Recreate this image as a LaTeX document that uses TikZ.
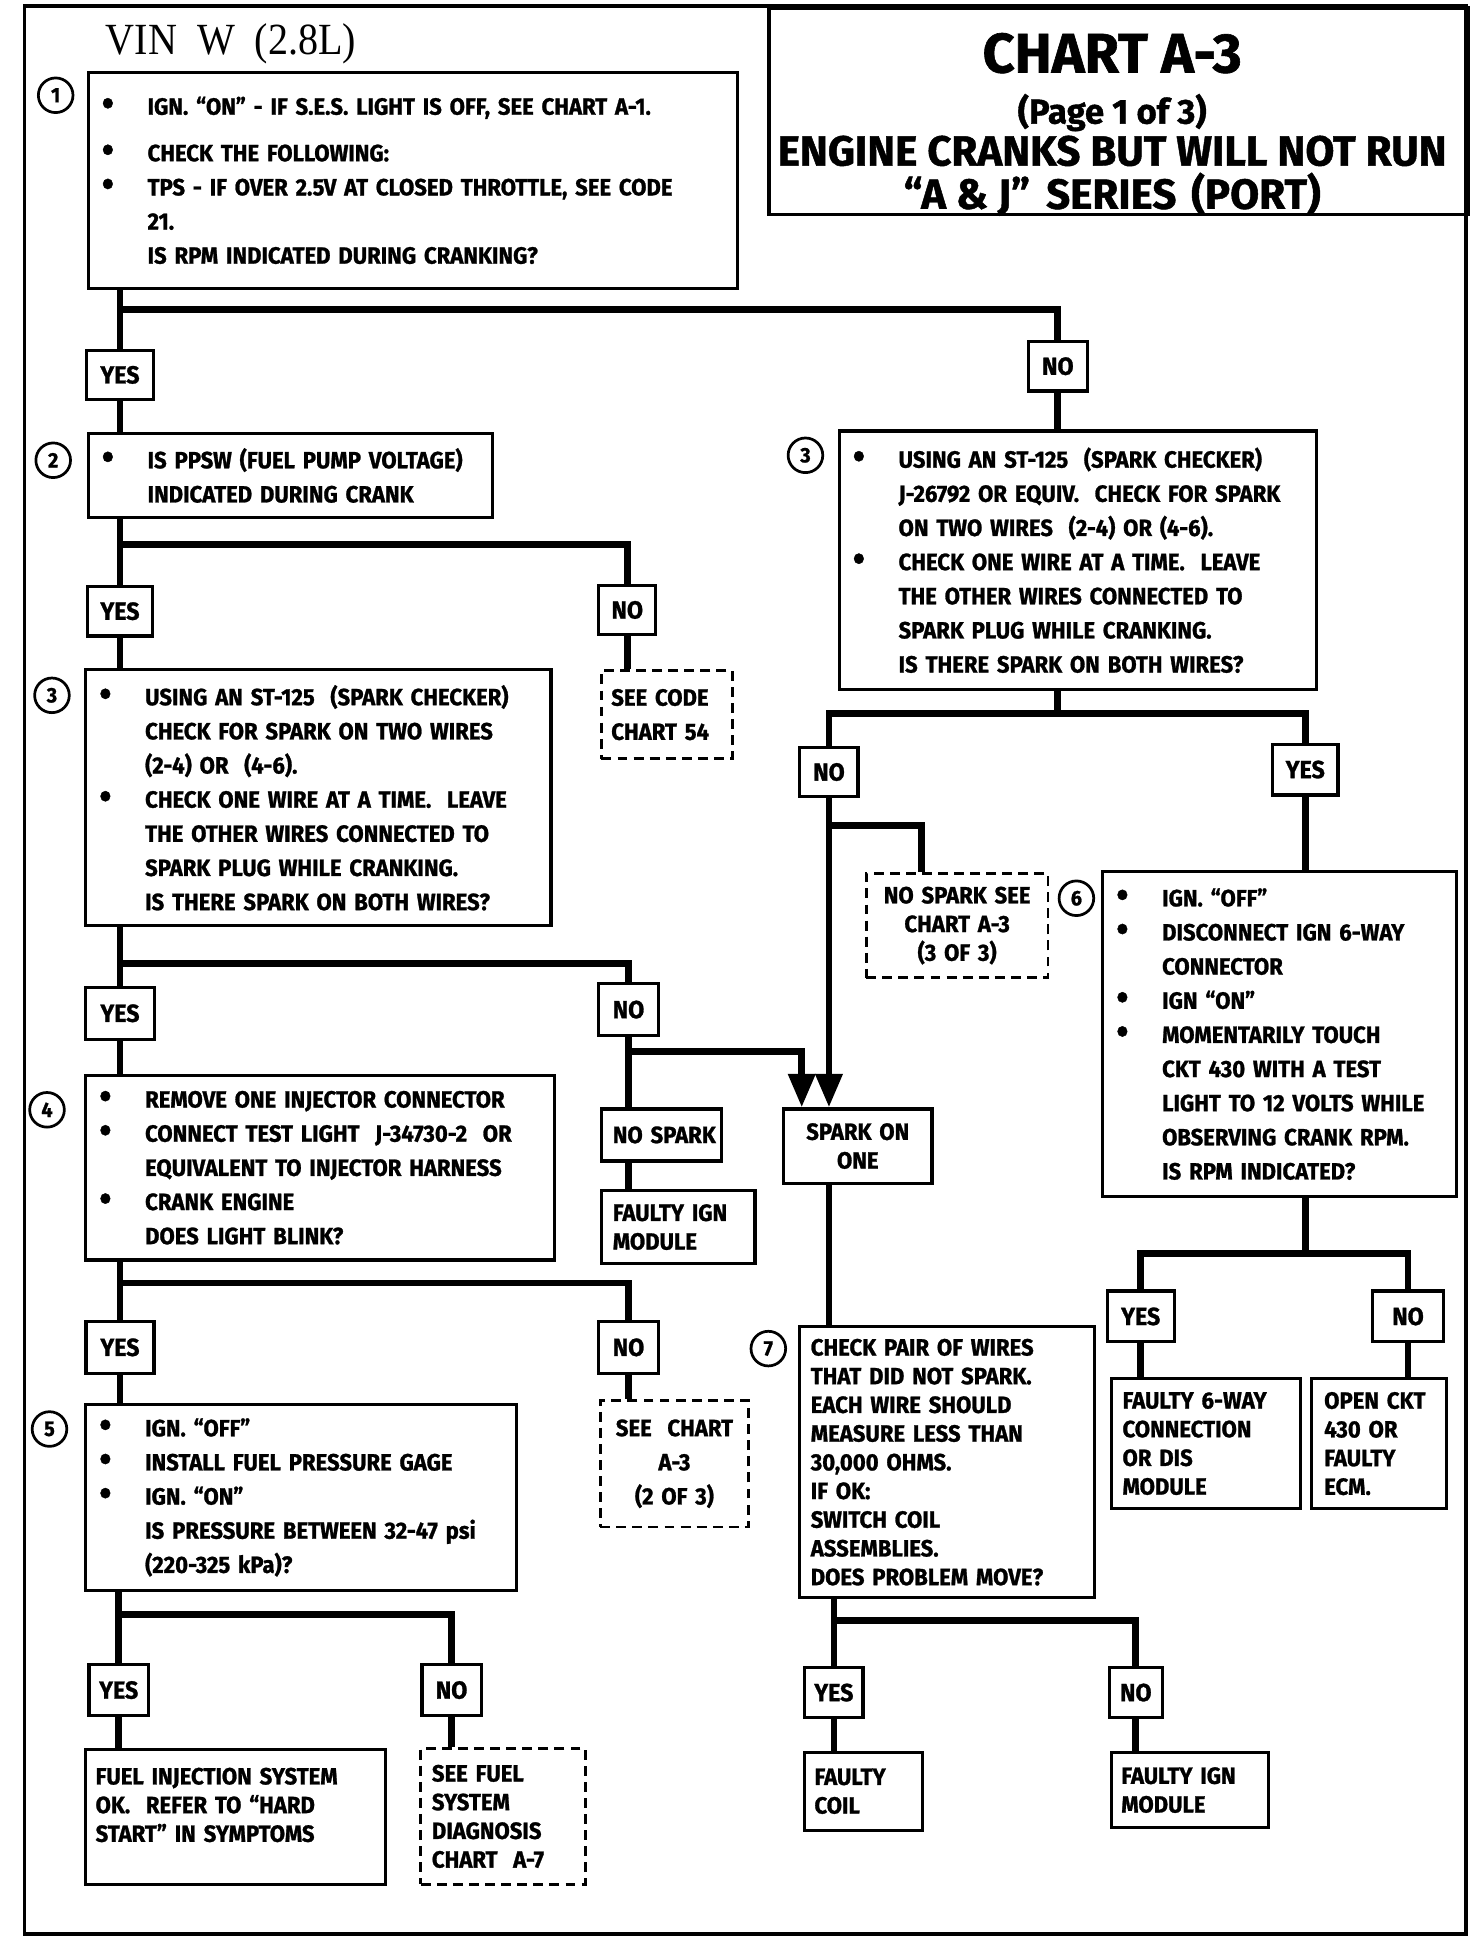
\documentclass[tikz,border=0pt]{standalone}
\usepackage{fontspec}
\setmainfont{Fira Sans}[FakeStretch=0.94, BoldFeatures={FakeBold=1.1}]
\newfontfamily\titlefont{Fira Sans}[BoldFeatures={FakeBold=1.1}]
\newfontfamily\vinfont{Liberation Serif}[FakeStretch=0.9]
\usetikzlibrary{arrows.meta}

\newcommand{\boxfont}{\fontsize{19}{27.6}\selectfont\bfseries}
\newcommand{\leaffont}{\fontsize{19}{23.2}\selectfont\bfseries}
% bullet line and indented line
\newcommand{\bl}[1]{\makebox[37pt][l]{\raisebox{-1pt}{\fontsize{30}{30}\selectfont\textbullet}}\mbox{#1}}
\newcommand{\il}[1]{\hspace*{37pt}\mbox{#1}}

\tikzset{
  frame/.style={line width=2.8pt},
  stepbox/.style={draw, line width=2.6pt, anchor=north west, align=left,
    inner xsep=11pt, inner ysep=0pt, font=\boxfont},
  leafbox/.style={draw, line width=2.6pt, anchor=north west, align=left,
    inner xsep=8pt, inner ysep=0pt, font=\leaffont},
  refbox/.style={leafbox, line width=2.2pt, dash pattern=on 8pt off 5pt},
  ansbox/.style={draw, line width=2.6pt, inner sep=0pt, minimum width=50pt,
    minimum height=40pt, font=\fontsize{20}{20}\selectfont\bfseries},
  stepnum/.style={draw, circle, line width=2.2pt, inner sep=0pt, minimum size=28pt,
    font=\fontsize{17}{17}\selectfont\bfseries},
  titleline/.style={inner sep=0pt, font=\titlefont\fontsize{#1}{#1}\selectfont\bfseries},
  wire/.style={line width=5.5pt},
  feed/.style={wire, -{Triangle[width=21pt,length=27pt]}},
}

\begin{document}
\begin{tikzpicture}[x=1pt, y=-1pt]
  \useasboundingbox (0,0) rectangle (1190,1568);
  \draw[frame] (20,5) rectangle (1185,1563);

  % heading
  \node[font=\vinfont\fontsize{36}{36}\selectfont, anchor=west] (vin) at (82,35) {VIN\ \ W\ \ (2.8L)};
  \node[draw, frame, anchor=north west, minimum width=565pt, minimum height=167pt] (title) at (620,5) {};
  \node[titleline=45] (chart) at ([shift={(-5,38)}]title.north) {CHART A-3};
  \node[titleline=28] (page) at ([shift={(-5,86)}]title.north) {(Page 1 of 3)};
  \node[titleline=34] (sub1) at ([shift={(-5,117)}]title.north) {ENGINE CRANKS BUT WILL NOT RUN};
  \node[titleline=34] (sub2) at ([shift={(-5,152)}]title.north) {“A \& J”\hspace{13pt}SERIES\hspace{12pt}(PORT)};

  % steps
  \node[stepbox, text width=503pt, minimum height=175pt] (s1) at (70,57) {%
    \bl{IGN. “ON” - IF S.E.S. LIGHT IS OFF, SEE CHART A-1.}\\[10pt]
    \bl{CHECK THE FOLLOWING:}\\
    \bl{TPS - IF OVER 2.5V AT CLOSED THROTTLE, SEE CODE}\\
    \il{21.}\\
    \il{IS RPM INDICATED DURING CRANKING?}};
  \node[stepbox, text width=305pt, minimum height=68pt] (s2) at (70,349) {%
    \bl{IS PPSW (FUEL PUMP VOLTAGE)}\\
    \il{INDICATED DURING CRANK}};
  \node[stepbox, text width=354pt, minimum height=207pt] (s3) at (68,540) {%
    \bl{USING AN ST-125\ \ (SPARK CHECKER)}\\
    \il{CHECK FOR SPARK ON TWO WIRES}\\
    \il{(2-4) OR\ \ (4-6).}\\
    \bl{CHECK ONE WIRE AT A TIME.\ \ LEAVE}\\
    \il{THE OTHER WIRES CONNECTED TO}\\
    \il{SPARK PLUG WHILE CRANKING.}\\
    \il{IS THERE SPARK ON BOTH WIRES?}};
  \node[stepbox, text width=364pt, minimum height=209pt] (s3r) at (677,347) {%
    \bl{USING AN ST-125\ \ (SPARK CHECKER)}\\
    \il{J-26792 OR EQUIV.\ \ CHECK FOR SPARK}\\
    \il{ON TWO WIRES\ \ (2-4) OR (4-6).}\\
    \bl{CHECK ONE WIRE AT A TIME.\ \ LEAVE}\\
    \il{THE OTHER WIRES CONNECTED TO}\\
    \il{SPARK PLUG WHILE CRANKING.}\\
    \il{IS THERE SPARK ON BOTH WIRES?}};
  \node[stepbox, text width=357pt, minimum height=149pt] (s4) at (68,868) {%
    \bl{REMOVE ONE INJECTOR CONNECTOR}\\
    \bl{CONNECT TEST LIGHT\ \ J-34730-2\ \ OR}\\
    \il{EQUIVALENT TO INJECTOR HARNESS}\\
    \bl{CRANK ENGINE}\\
    \il{DOES LIGHT BLINK?}};
  \node[stepbox, text width=326pt, minimum height=150pt] (s5) at (68,1134) {%
    \bl{IGN. “OFF”}\\
    \bl{INSTALL FUEL PRESSURE GAGE}\\
    \bl{IGN. “ON”}\\
    \il{IS PRESSURE BETWEEN 32-47 psi}\\
    \il{(220-325 kPa)?}};
  \node[stepbox, text width=264pt, minimum height=263pt] (s6) at (890,703) {%
    \bl{IGN. “OFF”}\\
    \bl{DISCONNECT IGN 6-WAY}\\
    \il{CONNECTOR}\\
    \bl{IGN “ON”}\\
    \bl{MOMENTARILY TOUCH}\\
    \il{CKT 430 WITH A TEST}\\
    \il{LIGHT TO 12 VOLTS WHILE}\\
    \il{OBSERVING CRANK RPM.}\\
    \il{IS RPM INDICATED?}};
  \node[leafbox, inner xsep=9pt, text width=220pt, minimum height=219pt] (s7) at (645,1071) {%
    CHECK~PAIR~OF~WIRES\\
    THAT~DID~NOT~SPARK.\\
    EACH~WIRE~SHOULD\\
    MEASURE~LESS~THAN\\
    30,000~OHMS.\\
    IF~OK:\\
    SWITCH~COIL\\
    ASSEMBLIES.\\
    DOES~PROBLEM~MOVE?};

  % step numbers
  \node[stepnum] (n1) at ([shift={(-25,20)}]s1.north west) {1};
  \node[stepnum] (n2) at ([shift={(-27,23)}]s2.north west) {2};
  \node[stepnum] (n3) at ([shift={(-26,22)}]s3.north west) {3};
  \node[stepnum] (n3r) at ([shift={(-26,21)}]s3r.north west) {3};
  \node[stepnum] (n4) at ([shift={(-30,29)}]s4.north west) {4};
  \node[stepnum] (n5) at ([shift={(-28,21)}]s5.north west) {5};
  \node[stepnum] (n6) at ([shift={(-20,23)}]s6.north west) {6};
  \node[stepnum] (n7) at ([shift={(-24,19)}]s7.north west) {7};

  % outcomes
  \node[refbox, font=\boxfont, text width=90pt, minimum height=71pt] (code54) at (485,541) {SEE~CODE\\CHART~54};
  \node[leafbox, inner xsep=9pt, text width=79pt, minimum height=42pt] (nospark) at (485,895) {NO~SPARK};
  \node[leafbox, inner xsep=9pt, text width=106pt, minimum height=59pt] (ign1) at (485,961) {FAULTY~IGN\\MODULE};
  \node[leafbox, align=center, text width=104pt, minimum height=60pt] (spark) at (632,895) {SPARK~ON\\ONE};
  \node[refbox, align=center, text width=131pt, minimum height=84pt] (a3of3) at (699,705) {NO~SPARK~SEE\\CHART~A-3\\(3~OF~3)};
  \node[leafbox, inner xsep=9pt, text width=135pt, minimum height=105pt] (fault6) at (897,1113) {FAULTY~6-WAY\\CONNECTION\\OR~DIS\\MODULE};
  \node[leafbox, inner xsep=10pt, text width=89pt, minimum height=105pt] (ckt430) at (1059,1113) {OPEN~CKT\\430~OR\\FAULTY\\ECM.};
  \node[refbox, font=\boxfont, align=center, text width=104pt, minimum height=102pt] (a2of3) at (484,1131) {SEE~~CHART\\A-3\\(2~OF~3)};
  \node[leafbox, text width=226pt, minimum height=109pt] (fuelok) at (68,1413) {FUEL~INJECTION~SYSTEM\\OK.~~REFER~TO~“HARD\\START”~IN~SYMPTOMS\\[-3pt]\mbox{}};
  \node[refbox, inner xsep=9pt, text width=115pt, minimum height=110pt] (seefuel) at (339,1412) {SEE~FUEL\\SYSTEM\\DIAGNOSIS\\CHART~~A-7};
  \node[leafbox, text width=79pt, minimum height=63pt] (coil) at (649,1415) {FAULTY\\COIL};
  \node[leafbox, text width=111pt, minimum height=61pt] (ign2) at (897,1415) {FAULTY~IGN\\MODULE};

  % answers
  \node[ansbox, minimum width=54pt] (yes1) at (97,303) {YES};
  \node[ansbox, minimum width=48pt] (no1) at (855,296) {NO};
  \node[ansbox, minimum width=52pt] (yes2) at (97,494) {YES};
  \node[ansbox, minimum width=46pt] (no2) at (507,493) {NO};
  \node[ansbox, minimum width=56pt, minimum height=42pt] (yes3) at (97,819) {YES};
  \node[ansbox, minimum width=48pt, minimum height=42pt] (no3) at (508,816) {NO};
  \node[ansbox, minimum width=47pt] (no3r) at (670,624) {NO};
  \node[ansbox, minimum width=53pt, minimum height=41pt] (yes3r) at (1055,622) {YES};
  \node[ansbox, minimum width=55pt, minimum height=42pt] (yes4) at (97,1089) {YES};
  \node[ansbox, minimum width=48pt, minimum height=42pt] (no4) at (508,1089) {NO};
  \node[ansbox, minimum width=48pt, minimum height=41pt] (yes5) at (96,1366) {YES};
  \node[ansbox, minimum width=48pt, minimum height=41pt] (no5) at (365,1366) {NO};
  \node[ansbox, minimum width=54pt, minimum height=41pt] (yes6) at (922,1064) {YES};
  \node[ansbox, minimum width=57pt, minimum height=41pt] (no6) at (1138,1064) {NO};
  \node[ansbox, minimum width=47pt] (yes7) at (674,1368) {YES};
  \node[ansbox, minimum width=43pt] (no7) at (918,1368) {NO};

  % branch levels
  \coordinate (j1) at (0,250);
  \coordinate (j2) at (0,440);
  \coordinate (j3) at (0,779);
  \coordinate (j4) at (0,850);
  \coordinate (j5) at (0,577);
  \coordinate (j6) at (0,667);
  \coordinate (j7) at (0,1013);
  \coordinate (j8) at (0,1310);
  \coordinate (j9) at (0,1037);
  \coordinate (j10) at (0,1305);
  \coordinate (tipL) at ([xshift=16pt]spark.north west);
  \coordinate (tipR) at ([xshift=44pt]spark.north west);

  % connectors
  \draw[wire] (yes1 |- s1.south) -- (yes1.north);
  \draw[wire] (yes1 |- j1) -| (no1.north);
  \draw[wire] (yes1.south) -- (yes1 |- s2.north);
  \draw[wire] (no1.south) -- (no1 |- s3r.north);

  \draw[wire] (yes2 |- s2.south) -- (yes2.north);
  \draw[wire] (yes2 |- j2) -| (no2.north);
  \draw[wire] (yes2.south) -- (yes2 |- s3.north);
  \draw[wire] (no2.south) -- (no2 |- code54.north);

  \draw[wire] (yes3 |- s3.south) -- (yes3.north);
  \draw[wire] (yes3 |- j3) -| (no3.north);
  \draw[wire] (yes3.south) -- (yes3 |- s4.north);
  \draw[wire] (no3.south) -- (no3 |- nospark.north);
  \draw[wire] (no3 |- nospark.south) -- (no3 |- ign1.north);
  \draw[feed] (no3 |- j4) -| (tipL);

  \draw[wire] (no1 |- s3r.south) -- (no1 |- j5);
  \draw[wire] (no3r.north) |- (yes3r.north |- j5) -- (yes3r.north);
  \draw[feed] (no3r.south) -- (no3r |- tipR);
  \draw[wire] (no3r |- j6) -| ([xshift=46pt]a3of3.north west);
  \draw[wire] (yes3r.south) -- (yes3r |- s6.north);

  \draw[wire] (yes3r |- s6.south) -- (yes3r |- j7);
  \draw[wire] (yes6.north) |- (no6.north |- j7) -- (no6.north);
  \draw[wire] (yes6.south) -- (yes6 |- fault6.north);
  \draw[wire] (no6.south) -- (no6 |- ckt430.north);

  \draw[wire] (no3r |- spark.south) -- (no3r |- s7.north);
  \draw[wire] (yes7 |- s7.south) -- (yes7 |- j8);
  \draw[wire] (yes7.north) |- (no7.north |- j8) -- (no7.north);
  \draw[wire] (yes7.south) -- (yes7 |- coil.north);
  \draw[wire] (no7.south) -- (no7 |- ign2.north);

  \draw[wire] (yes4 |- s4.south) -- (yes4.north);
  \draw[wire] (yes4 |- j9) -| (no4.north);
  \draw[wire] (yes4.south) -- (yes4 |- s5.north);
  \draw[wire] (no4.south) -- (no4 |- a2of3.north);

  \draw[wire] (yes5 |- s5.south) -- (yes5.north);
  \draw[wire] (yes5 |- j10) -| (no5.north);
  \draw[wire] (yes5.south) -- (yes5 |- fuelok.north);
  \draw[wire] (no5.south) -- (no5 |- seefuel.north);
\end{tikzpicture}
\end{document}
